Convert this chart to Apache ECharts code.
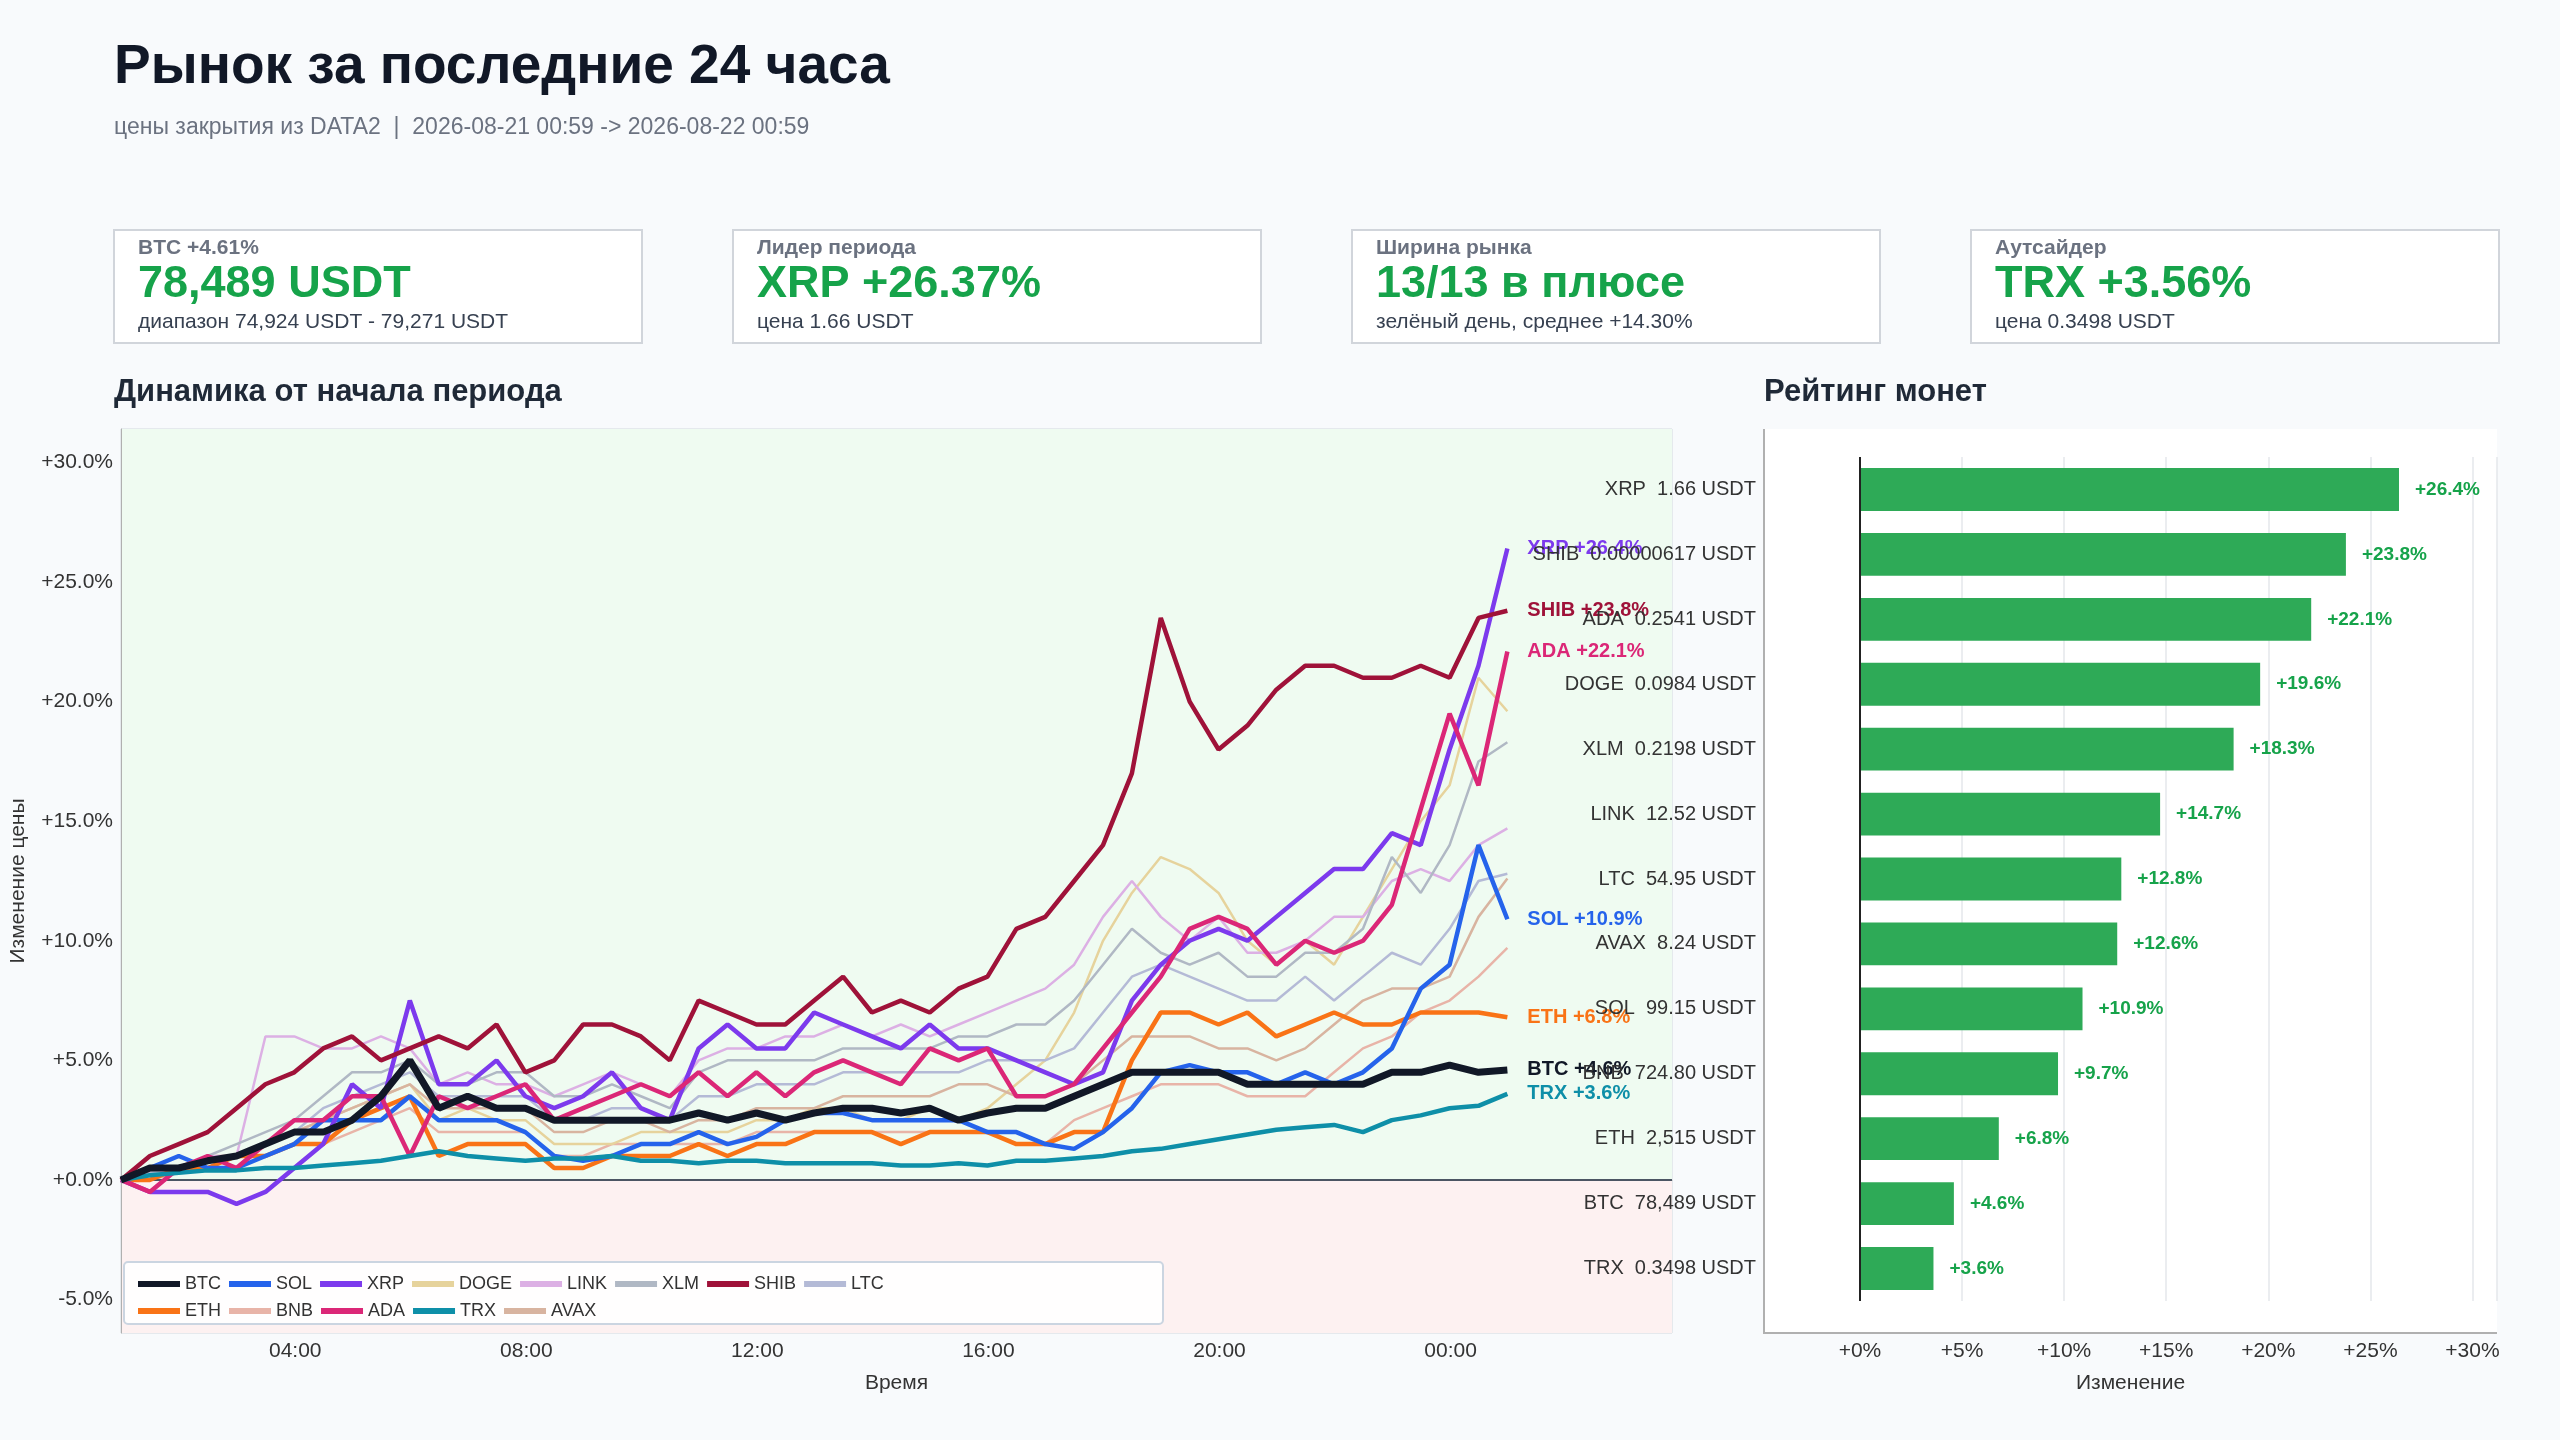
<!DOCTYPE html>
<html><head><meta charset="utf-8">
<script src="https://cdn.jsdelivr.net/npm/echarts@6/dist/echarts.min.js"></script>
<style>html,body{margin:0;padding:0;background:#f8fafc}#c{width:2560px;height:1440px}</style>
</head><body><div id="c"></div>
<script>
// ---- data (percent change from period start, 30-min steps from 2026-08-21 00:59) ----
const startTime = '2026-08-21T00:59:00';
const BTC  = [0,0.5,0.5,0.8,1,1.5,2,2,2.5,3.5,5,3,3.5,3,3,2.5,2.5,2.5,2.5,2.5,2.8,2.5,2.8,2.5,2.8,3,3,2.8,3,2.5,2.8,3,3,3.5,4,4.5,4.5,4.5,4.5,4,4,4,4,4,4.5,4.5,4.8,4.5,4.6];
const ETH  = [0,0,0.5,0.5,1,1,1.5,1.5,2.5,3,3.5,1,1.5,1.5,1.5,0.5,0.5,1,1,1,1.5,1,1.5,1.5,2,2,2,1.5,2,2,2,1.5,1.5,2,2,5,7,7,6.5,7,6,6.5,7,6.5,6.5,7,7,7,6.8];
const SOL  = [0,0.5,1,0.5,0.5,1,1.5,2.5,2.5,2.5,3.5,2.5,2.5,2.5,2,1,0.8,1,1.5,1.5,2,1.5,1.8,2.5,2.8,2.8,2.5,2.5,2.5,2.5,2,2,1.5,1.3,2,3,4.5,4.8,4.5,4.5,4,4.5,4,4.5,5.5,8,9,14,10.9];
const BNB  = [0,0,0.3,0.5,0.5,1,1.5,1.5,2,2.5,3,2,2,2,2,1,1,1.5,1.5,1.5,1.5,1.5,2,2,2,2,2,2,2,2,2,1.5,1.5,2.5,3,3.5,4,4,4,3.5,3.5,3.5,4.5,5.5,6,7,7.5,8.5,9.7];
const XRP  = [0,-0.5,-0.5,-0.5,-1,-0.5,0.5,1.5,4,3,7.5,4,4,5,3.5,3,3.5,4.5,3,2.5,5.5,6.5,5.5,5.5,7,6.5,6,5.5,6.5,5.5,5.5,5,4.5,4,4.5,7.5,9,10,10.5,10,11,12,13,13,14.5,14,18,21.5,26.4];
const ADA  = [0,-0.5,0.5,1,0.5,1.5,2.5,2.5,3.5,3.5,1,3.5,3,3.5,4,2.5,3,3.5,4,3.5,4.5,3.5,4.5,3.5,4.5,5,4.5,4,5.5,5,5.5,3.5,3.5,4,5.5,7,8.5,10.5,11,10.5,9,10,9.5,10,11.5,15.5,19.5,16.5,22.1];
const DOGE = [0,0,0.5,1,1,1.5,2,2.5,3,3.5,4,2.5,3,2.5,2.5,1.5,1.5,1.5,2,2,2,2,2.5,2.5,3,3,2.5,2.5,3,2.5,3,4,5,7,10,12,13.5,13,12,10,9,10,9,11,13,15,16.5,21,19.6];
const TRX  = [0,0.2,0.3,0.4,0.4,0.5,0.5,0.6,0.7,0.8,1,1.2,1,0.9,0.8,0.9,0.9,1,0.8,0.8,0.7,0.8,0.8,0.7,0.7,0.7,0.7,0.6,0.6,0.7,0.6,0.8,0.8,0.9,1,1.2,1.3,1.5,1.7,1.9,2.1,2.2,2.3,2,2.5,2.7,3,3.1,3.6];
const LINK = [0,0.5,0.5,1,1,6,6,5.5,5.5,6,5.5,4,4.5,4,4,3.5,4,4.5,4,3.5,5,5.5,5.5,6,6,6.5,6,6.5,6,6.5,7,7.5,8,9,11,12.5,11,10,11,9.5,9.5,10,11,11,12.5,13,12.5,14,14.7];
const AVAX = [0,0.3,0.5,0.8,1,1.5,2,2.5,3,3.5,4,3,3,3,3,2,2,2.5,2.5,2,2.5,2.5,3,3,3,3.5,3.5,3.5,3.5,4,4,3.5,3.5,4,5,6,6,6,5.5,5.5,5,5.5,6.5,7.5,8,8,8.5,11,12.6];
const XLM  = [0,0.5,0.5,1,1.5,2,2.5,3.5,4.5,4.5,5,4,4,4.5,4.5,3.5,3.5,4,3.5,3,4.5,5,5,5,5,5.5,5.5,5.5,5.5,6,6,6.5,6.5,7.5,9,10.5,9.5,9,9.5,8.5,8.5,9.5,9.5,10.5,13.5,12,14,17.5,18.3];
const SHIB = [0,1,1.5,2,3,4,4.5,5.5,6,5,5.5,6,5.5,6.5,4.5,5,6.5,6.5,6,5,7.5,7,6.5,6.5,7.5,8.5,7,7.5,7,8,8.5,10.5,11,12.5,14,17,23.5,20,18,19,20.5,21.5,21.5,21,21,21.5,21,23.5,23.8];
const LTC  = [0,0.3,0.5,0.8,1,1.5,2,3,3.5,4,4.5,3.5,3.5,3.5,3.5,2.5,2.5,3,3,2.5,3.5,3.5,4,4,4,4.5,4.5,4.5,4.5,4.5,5,5,5,5.5,7,8.5,9,8.5,8,7.5,7.5,8.5,7.5,8.5,9.5,9,10.5,12.5,12.8];

const coinNames = ['BTC','ETH','SOL','BNB','XRP','ADA','DOGE','TRX','LINK','AVAX','XLM','SHIB','LTC'];
const coinSeries = {BTC,ETH,SOL,BNB,XRP,ADA,DOGE,TRX,LINK,AVAX,XLM,SHIB,LTC};
const coinColors = {BTC:'#111827',ETH:'#f97316',SOL:'#2563eb',BNB:'#e8b4a8',XRP:'#7c3aed',ADA:'#db2777',DOGE:'#e6d39c',TRX:'#0e8fa8',LINK:'#dcb0e4',AVAX:'#d8b4a0',XLM:'#b0b8c4',SHIB:'#9f1239',LTC:'#b4bad6'};
const highlighted = ['BTC','ETH','SOL','XRP','ADA','TRX','SHIB'];
const legendRow1 = ['BTC','SOL','XRP','DOGE','LINK','XLM','SHIB','LTC'];
const legendRow2 = ['ETH','BNB','ADA','TRX','AVAX'];

// ranking
const rankCoins  = ['XRP','SHIB','ADA','DOGE','XLM','LINK','LTC','AVAX','SOL','BNB','ETH','BTC','TRX'];
const rankPrices = ['1.66','0.00000617','0.2541','0.0984','0.2198','12.52','54.95','8.24','99.15','724.80','2,515','78,489','0.3498'];
const rankChange = [26.4,23.8,22.1,19.6,18.3,14.7,12.8,12.6,10.9,9.7,6.8,4.6,3.6];

const yTicksLine = [-5,0,5,10,15,20,25,30];

// ---- build ----
const t0 = new Date(startTime).getTime();
const times = BTC.map((_, i) => t0 + i * 30 * 60000);
const fmtPct1 = v => (v >= 0 ? '+' : '') + v.toFixed(1) + '%';
const chart = echarts.init(document.getElementById('c'));
const FONT = 'Liberation Sans, Arial, sans-serif';

const lineSeries = coinNames.map(n => {
  const hi = highlighted.includes(n);
  const arr = coinSeries[n];
  return {
    name: n, type: 'line', xAxisIndex: 0, yAxisIndex: 0,
    showSymbol: false, symbol: 'none',
    z: n === 'BTC' ? 10 : (hi ? 5 : 2),
    lineStyle: {width: n === 'BTC' ? 7 : (hi ? 4.5 : 2.5), color: coinColors[n]},
    itemStyle: {color: coinColors[n]},
    data: times.map((t, i) => [t, arr[i]]),
    endLabel: hi ? {show: true, distance: 20, color: coinColors[n], fontWeight: 'bold', fontSize: 20, fontFamily: FONT,
      formatter: () => n + ' ' + fmtPct1(arr[arr.length - 1])} : {show: false}
  };
});
lineSeries.push({
  type: 'line', data: [], silent: true, xAxisIndex: 0, yAxisIndex: 0, z: 0,
  markArea: {silent: true, z: 0, data: [
    [{yAxis: 0, itemStyle: {color: '#effbf1'}}, {yAxis: 31.4}],
    [{yAxis: -6.4, itemStyle: {color: '#fdf1f1'}}, {yAxis: 0}]
  ]},
  markLine: {silent: true, symbol: 'none', label: {show: false}, lineStyle: {color: '#4b5563', width: 2, type: 'solid'}, data: [{yAxis: 0}]}
});

function kpi(x, label, value, sub) {
  return [
    {type: 'rect', shape: {x: x, y: 230, width: 528, height: 113}, style: {fill: '#fff', stroke: '#d1d5db', lineWidth: 2}},
    {type: 'text', x: x + 24, y: 248, style: {text: label, font: 'bold 21px ' + FONT, fill: '#6b7280', verticalAlign: 'middle'}},
    {type: 'text', x: x + 24, y: 285, style: {text: value, font: 'bold 45px ' + FONT, fill: '#16a34a', verticalAlign: 'middle'}},
    {type: 'text', x: x + 24, y: 322, style: {text: sub, font: '21px ' + FONT, fill: '#374151', verticalAlign: 'middle'}}
  ];
}

const legendCommon = {icon: 'rect', itemWidth: 42, itemHeight: 6, itemGap: 8, left: 133,
  formatter: n => '{a|' + n + '}',
  textStyle: {fontSize: 18, fontFamily: FONT, color: '#333', rich: {a: {width: 76, fontSize: 18, color: '#333'}}}};

chart.setOption({
  backgroundColor: '#f8fafc',
  animation: false,
  textStyle: {fontFamily: FONT},
  graphic: [
    {type: 'text', x: 114, y: 68, style: {text: 'Рынок за последние 24 часа', font: 'bold 55px ' + FONT, fill: '#111827', verticalAlign: 'middle'}},
    {type: 'text', x: 114, y: 128, style: {text: 'цены закрытия из DATA2  |  2026-08-21 00:59 -> 2026-08-22 00:59', font: '23px ' + FONT, fill: '#6b7280', verticalAlign: 'middle'}},
    ...kpi(114, 'BTC +4.61%', '78,489 USDT', 'диапазон 74,924 USDT - 79,271 USDT'),
    ...kpi(733, 'Лидер периода', 'XRP +26.37%', 'цена 1.66 USDT'),
    ...kpi(1352, 'Ширина рынка', '13/13 в плюсе', 'зелёный день, среднее +14.30%'),
    ...kpi(1971, 'Аутсайдер', 'TRX +3.56%', 'цена 0.3498 USDT'),
    {type: 'text', x: 114, y: 392, style: {text: 'Динамика от начала периода', font: 'bold 31px ' + FONT, fill: '#1f2937', verticalAlign: 'middle'}},
    {type: 'text', x: 1764, y: 392, style: {text: 'Рейтинг монет', font: 'bold 31px ' + FONT, fill: '#1f2937', verticalAlign: 'middle'}},
    {type: 'rect', z: -10, silent: true, shape: {x: 1764, y: 429, width: 733, height: 904}, style: {fill: '#ffffff', stroke: null}},
    {type: 'polyline', z: 40, silent: true, shape: {points: [[1764, 429], [1764, 1333], [2497, 1333]]}, style: {stroke: '#b0b0b0', lineWidth: 2, fill: null}},
    {type: 'rect', z: 50, shape: {x: 124, y: 1262, width: 1039, height: 62, r: 4}, style: {fill: 'rgba(255,255,255,0.9)', stroke: '#cbd5e1', lineWidth: 2}}
  ],
  legend: [
    Object.assign({}, legendCommon, {top: 1270, data: legendRow1, z: 60}),
    Object.assign({}, legendCommon, {top: 1297, data: legendRow2, z: 60})
  ],
  grid: [
    {left: 114, right: 2560 - 1672, top: 429, bottom: 1440 - 1333},
    {left: 1764, right: 2560 - 2497, top: 457, bottom: 1440 - 1301}
  ],
  xAxis: [
    {type: 'time', gridIndex: 0, min: t0, max: t0 + 26.85 * 3600000,
      minInterval: 4 * 3600000, maxInterval: 4 * 3600000,
      name: 'Время', nameLocation: 'middle', nameGap: 40, nameTextStyle: {fontSize: 21, color: '#333'},
      axisLine: {show: true, lineStyle: {color: '#b0b0b0'}}, axisTick: {show: false},
      axisLabel: {fontSize: 21, color: '#333', formatter: '{HH}:{mm}', showMinLabel: false, showMaxLabel: false, hideOverlap: false},
      splitLine: {show: true, lineStyle: {color: '#dfe3e8', width: 1.5}}},
    {type: 'value', gridIndex: 1, min: -4.7, max: 31.2, splitNumber: 8,
      name: 'Изменение', nameLocation: 'middle', nameGap: 72, nameTextStyle: {fontSize: 21, color: '#333'},
      axisLine: {show: false}, axisTick: {show: false},
      axisLabel: {fontSize: 21, color: '#333', margin: 40, showMinLabel: false, showMaxLabel: false,
        formatter: v => (Math.abs(v % 5) < 1e-6 && v >= 0) ? '+' + v + '%' : ''},
      splitLine: {show: true, lineStyle: {color: '#e5e7eb', width: 1.5}}}
  ],
  yAxis: [
    {type: 'value', gridIndex: 0, min: -6.4, max: 31.4, splitNumber: 8,
      name: 'Изменение цены', nameLocation: 'middle', nameGap: 92, nameTextStyle: {fontSize: 21, color: '#333'},
      axisLine: {show: true, lineStyle: {color: '#b0b0b0'}}, axisTick: {show: false},
      axisLabel: {fontSize: 21, color: '#333', showMinLabel: false, showMaxLabel: false,
        formatter: v => yTicksLine.some(t => Math.abs(t - v) < 1e-6) ? fmtPct1(v) : ''},
      splitLine: {show: true, lineStyle: {color: '#dfe3e8', width: 1.5}}},
    {type: 'category', gridIndex: 1, inverse: true, z: 20, data: rankCoins.map((c, i) => c + '  ' + rankPrices[i] + ' USDT'),
      axisLine: {show: false}, axisTick: {show: false},
      axisLabel: {fontSize: 20, color: '#333', margin: 8},
      splitLine: {show: false}}
  ],
  series: [
    ...lineSeries,
    {type: 'bar', xAxisIndex: 1, yAxisIndex: 1, barWidth: '66%', data: rankChange,
      itemStyle: {color: '#2eaa57'},
      label: {show: true, position: 'right', distance: 16, color: '#16a34a', fontWeight: 'bold', fontSize: 19, formatter: p => fmtPct1(p.value)},
      markLine: {silent: true, symbol: 'none', label: {show: false}, lineStyle: {color: '#222', width: 2, type: 'solid'}, data: [{xAxis: 0}]}}
  ]
});
</script></body></html>
